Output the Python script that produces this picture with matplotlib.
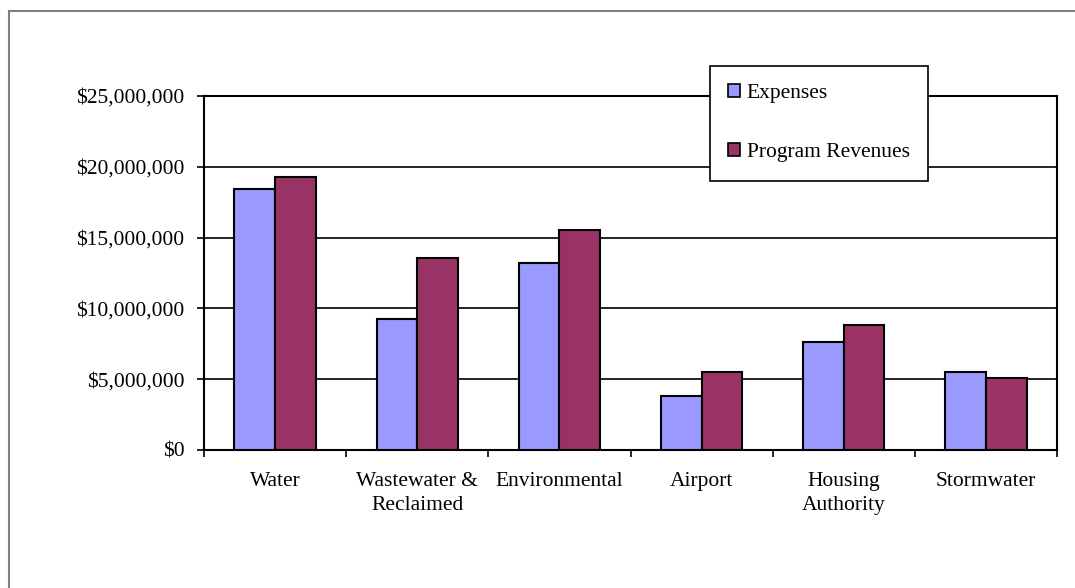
import numpy as np
import matplotlib.pyplot as plt
from matplotlib.patches import Rectangle
from matplotlib.ticker import FuncFormatter

categories = ["Water", "Wastewater &\nReclaimed", "Environmental", "Airport",
              "Housing\nAuthority", "Stormwater"]
expenses = [18400000, 9250000, 13200000, 3800000, 7600000, 5500000]
revenues = [19250000, 13550000, 15550000, 5500000, 8800000, 5050000]
series_names = ["Expenses", "Program Revenues"]

plt.rcParams["font.family"] = ["Liberation Serif", "DejaVu Serif"]
FS = 15.5

fig = plt.figure(figsize=(10.75, 5.88), dpi=100)
# outer chart border (gray), open on the right/bottom like the crop
fig.patches.append(Rectangle((9 / 1075, -0.05), 1.2, 1 - 11 / 588 + 0.05,
                             transform=fig.transFigure, fill=False,
                             edgecolor="#808080", linewidth=1.5))

ax = fig.add_axes([204 / 1075, 1 - 450 / 588, (1057 - 204) / 1075, (450 - 96) / 588])

x = np.arange(len(categories))
w = 1 / 3.5  # excel gap width 150%
ax.bar(x - w / 2, expenses, w, color="#9999FF", edgecolor="black", linewidth=1.5,
       label=series_names[0], zorder=3)
ax.bar(x + w / 2, revenues, w, color="#993366", edgecolor="black", linewidth=1.5,
       label=series_names[1], zorder=3)

ax.set_xlim(-0.5, len(categories) - 0.5)
ax.set_ylim(0, 25000000)
ax.set_yticks(np.arange(0, 25000001, 5000000))
ax.yaxis.set_major_formatter(FuncFormatter(lambda v, p: "${:,.0f}".format(v)))
ax.yaxis.grid(True, color="black", linewidth=1.2, zorder=0)
ax.set_axisbelow(True)

ax.set_xticks(x)
ax.set_xticklabels(categories, fontsize=FS, linespacing=1.35)
ax.set_xticks(np.arange(-0.5, len(categories)), minor=True)
ax.tick_params(axis="x", which="major", length=0, pad=16)
ax.tick_params(axis="x", which="minor", length=5, width=1.2, direction="out")
ax.tick_params(axis="y", length=5, width=1.2, labelsize=FS, pad=9)

for s in ax.spines.values():
    s.set_linewidth(1.5)
    s.set_color("black")

leg = ax.legend(loc="upper left", bbox_to_anchor=(710 / 1075, 1 - 66 / 588),
                bbox_transform=fig.transFigure, fontsize=FS, frameon=True,
                framealpha=1, fancybox=False, edgecolor="black",
                handlelength=0.55, handleheight=0.55, handletextpad=0.3,
                labelspacing=1.85, borderpad=0.85, borderaxespad=0)
leg.get_frame().set_linewidth(1.2)
leg.set_zorder(5)
for h in leg.legend_handles:
    h.set_linewidth(1.2)

fig.savefig("out.png", dpi=100)
